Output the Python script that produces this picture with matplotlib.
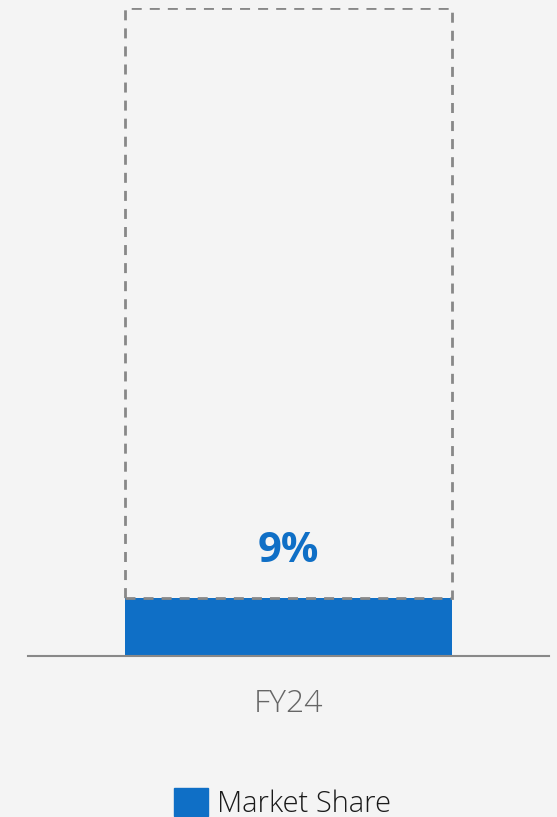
import matplotlib.pyplot as plt
from matplotlib.patches import Patch

plt.rcParams['font.family'] = ['Open Sans', 'DejaVu Sans']

categories = ['FY24']
market_share = [9]
total = [100]
series_name = 'Market Share'

BG = '#f4f4f4'
BLUE = '#0f6fc6'
GREY = '#888888'

fig = plt.figure(figsize=(5.57, 8.17), dpi=100, facecolor=BG)
ax = fig.add_axes([28 / 557, 161 / 817, 521 / 557, 648 / 817])
ax.set_facecolor(BG)

x = [0.5]
width = 326 / 521

ax.bar(x, market_share, width=width, color=BLUE, zorder=2)
# dashed outline for the rest of the 100%
rest = [t - m for t, m in zip(total, market_share)]
ax.bar(x, rest, bottom=market_share, width=width, fill=False, edgecolor=GREY,
       linewidth=2, linestyle=(0, (3.6, 2.9)), zorder=3)

for xi, v in zip(x, market_share):
    ax.text(xi, v + 3.9, f'{v}%', ha='center', va='bottom', fontsize=30,
            fontweight='bold', color=BLUE)

ax.set_xlim(0, 1)
ax.set_ylim(0, 100)
ax.set_xticks(x)
ax.set_xticklabels(categories, fontsize=23, color='#666666', fontweight='light')
ax.tick_params(axis='x', length=0, pad=23)
ax.set_yticks([])
for s in ['top', 'right', 'left']:
    ax.spines[s].set_visible(False)
ax.spines['bottom'].set_color(GREY)
ax.spines['bottom'].set_linewidth(1.5)
ax.spines['bottom'].set_zorder(4)

leg = fig.legend(handles=[Patch(color=BLUE, label=series_name)],
                 loc='lower center', bbox_to_anchor=(0.507, -0.034), frameon=False,
                 fontsize=21, handlelength=1.15, handleheight=1.1, handletextpad=0.3)
for t in leg.get_texts():
    t.set_fontweight('light')
    t.set_color('#1a1a1a')

fig.savefig('out.png', dpi=100, facecolor=BG)
